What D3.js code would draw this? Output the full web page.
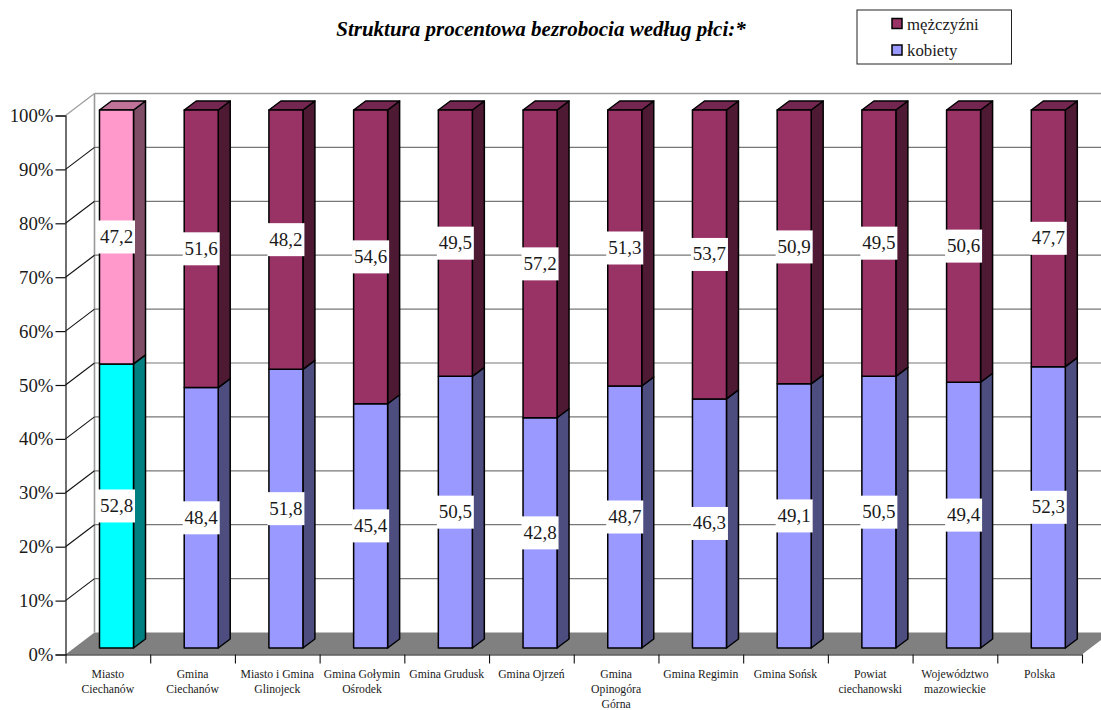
<!DOCTYPE html>
<html><head><meta charset="utf-8">
<script src="https://cdn.jsdelivr.net/npm/d3@7/dist/d3.min.js"></script>
<style>
html,body{margin:0;padding:0;background:#fff;overflow:hidden}
svg{display:block}
text{font-family:"Liberation Serif","Times New Roman",serif;fill:#1a1a1a}
</style></head><body><svg id="c" width="1101" height="710"></svg>
<script>
const categories=[["Miasto","Ciechanów"],["Gmina","Ciechanów"],["Miasto i Gmina","Glinojeck"],["Gmina Gołymin","Ośrodek"],["Gmina Grudusk"],["Gmina Ojrzeń"],["Gmina","Opinogóra","Górna"],["Gmina Regimin"],["Gmina Sońsk"],["Powiat","ciechanowski"],["Województwo","mazowieckie"],["Polska"]];
const kobiety=[52.8,48.4,51.8,45.4,50.5,42.8,48.7,46.3,49.1,50.5,49.4,52.3];
const mezczyzni=[47.2,51.6,48.2,54.6,49.5,57.2,51.3,53.7,50.9,49.5,50.6,47.7];
const legendItems=["mężczyźni","kobiety"];
const titleText="Struktura procentowa bezrobocia według płci:*";
const yTicks=[0,10,20,30,40,50,60,70,80,90,100];

const womenC={front:"#9999ff",side:"#4d4d80",top:"#7373bf"};
const menC={front:"#993366",side:"#4d1933",top:"#732650"};
const firstWomenC={front:"#00ffff",side:"#008080",top:"#00bfbf"};
const firstMenC={front:"#ff99cc",side:"#804d66",top:"#bf7399"};

const svg=d3.select("#c");
const axisL=65.5,axisR=1082,axisB=654.5,axisT=115.5,dx3=29,dy3=22;
const yAxisS=d3.scaleLinear().domain([0,100]).range([axisB,axisT]);
const yBar=d3.scaleLinear().domain([0,100]).range([648,110]);
const xBand=d3.scaleBand().domain(d3.range(categories.length)).range([axisL,axisR]);
const xTick=d3.scaleLinear().domain([0,categories.length]).range([axisL,axisR]);
const barW=34,barDx=12,barDy=9,barOff=34;

// walls and gridlines
const wallC="#9a9a9a",gridC="#777";
svg.append("line").attr("x1",axisL+dx3+.0).attr("x2",axisL+dx3).attr("y1",yAxisS(100)-dy3).attr("y2",axisB-dy3).attr("stroke",wallC).attr("stroke-width",1.6);
yTicks.slice(1).forEach(t=>{
  const y=yAxisS(t);
  svg.append("line").attr("x1",axisL+dx3).attr("x2",1101).attr("y1",y-dy3).attr("y2",y-dy3)
    .attr("stroke",t===100?wallC:gridC).attr("stroke-width",t===100?1.6:1.2);
  svg.append("line").attr("x1",axisL).attr("x2",axisL+dx3).attr("y1",y).attr("y2",y-dy3)
    .attr("stroke",t===100?wallC:"#111").attr("stroke-width",1.1);
});
// floor
svg.append("path").attr("fill","#808080")
  .attr("d",d3.line()([[axisL,axisB],[axisL+dx3,axisB-dy3],[axisR+dx3,axisB-dy3],[axisR,axisB]])+"Z");

// axes
const gy=svg.append("g").attr("transform",`translate(${axisL},0)`)
  .call(d3.axisLeft(yAxisS).tickValues(yTicks).tickFormat(d=>d+"%").tickSize(10).tickPadding(2));
gy.select(".domain").attr("stroke","#111").attr("stroke-width",1.2);
gy.selectAll(".tick line").attr("stroke","#111").attr("stroke-width",1.2);
gy.selectAll("text").attr("font-size",18.8).style("font-family",'"Liberation Serif",serif').attr("fill","#1a1a1a");

const gx=svg.append("g").attr("transform",`translate(0,${axisB})`)
  .call(d3.axisBottom(xTick).tickValues(d3.range(categories.length+1)).tickFormat("").tickSize(9).tickSizeOuter(0));
gx.select(".domain").attr("stroke","#111").attr("stroke-width",1.2);
gx.selectAll(".tick line").attr("stroke","#111").attr("stroke-width",1.1);

categories.forEach((lines,i)=>{
  const t=svg.append("text").attr("text-anchor","middle").attr("font-size",11.7);
  lines.forEach((l,j)=>t.append("tspan").attr("x",xBand(i)+xBand.bandwidth()/2).attr("y",677.5+j*15).text(l));
});

// bars
function seg(x,v0,v1,c,showTop){
  const y0=yBar(v0),y1=yBar(v1),g=svg.append("g").attr("stroke","#000").attr("stroke-width",1.5).attr("stroke-linejoin","round");
  g.append("path").attr("fill",c.side).attr("d",d3.line()([[x+barW,y0],[x+barW+barDx,y0-barDy],[x+barW+barDx,y1-barDy],[x+barW,y1]])+"Z");
  if(showTop)g.append("path").attr("fill",c.top).attr("d",d3.line()([[x,y1],[x+barDx,y1-barDy],[x+barW+barDx,y1-barDy],[x+barW,y1]])+"Z");
  g.append("rect").attr("x",x).attr("y",y1).attr("width",barW).attr("height",y0-y1).attr("fill",c.front);
}
categories.forEach((_,i)=>{
  const x=xBand(i)+barOff;
  seg(x,0,kobiety[i],i===0?firstWomenC:womenC,false);
  seg(x,kobiety[i],100,i===0?firstMenC:menC,true);
});
// value labels
const fmt=v=>d3.format(".1f")(v).replace(".",",");
function label(i,center,v){
  const cx=xBand(i)+barOff+barW/2, cy=yBar(center);
  svg.append("rect").attr("x",cx-18.5).attr("y",cy-16.5).attr("width",37).attr("height",33).attr("fill","#fff");
  svg.append("text").attr("x",cx).attr("y",cy+6).attr("text-anchor","middle").attr("font-size",19).text(fmt(v));
}
categories.forEach((_,i)=>{
  label(i,kobiety[i]/2,kobiety[i]);
  label(i,kobiety[i]+mezczyzni[i]/2,mezczyzni[i]);
});

// title
svg.append("text").attr("x",541).attr("y",36).attr("text-anchor","middle")
  .attr("font-size",21).attr("font-weight","bold").attr("font-style","italic").style("fill","#000").text(titleText);

// legend
svg.append("rect").attr("x",857).attr("y",10).attr("width",154.5).attr("height",54).attr("fill","#fff").attr("stroke","#222").attr("stroke-width",1);
[menC,womenC].forEach((c,i)=>{
  const y=18.5+i*26.5;
  svg.append("rect").attr("x",892).attr("y",y).attr("width",10).attr("height",10).attr("fill",c.front).attr("stroke","#000").attr("stroke-width",1.5);
  svg.append("text").attr("x",907).attr("y",y+11).attr("font-size",16.8).text(legendItems[i]);
});
</script></body></html>
